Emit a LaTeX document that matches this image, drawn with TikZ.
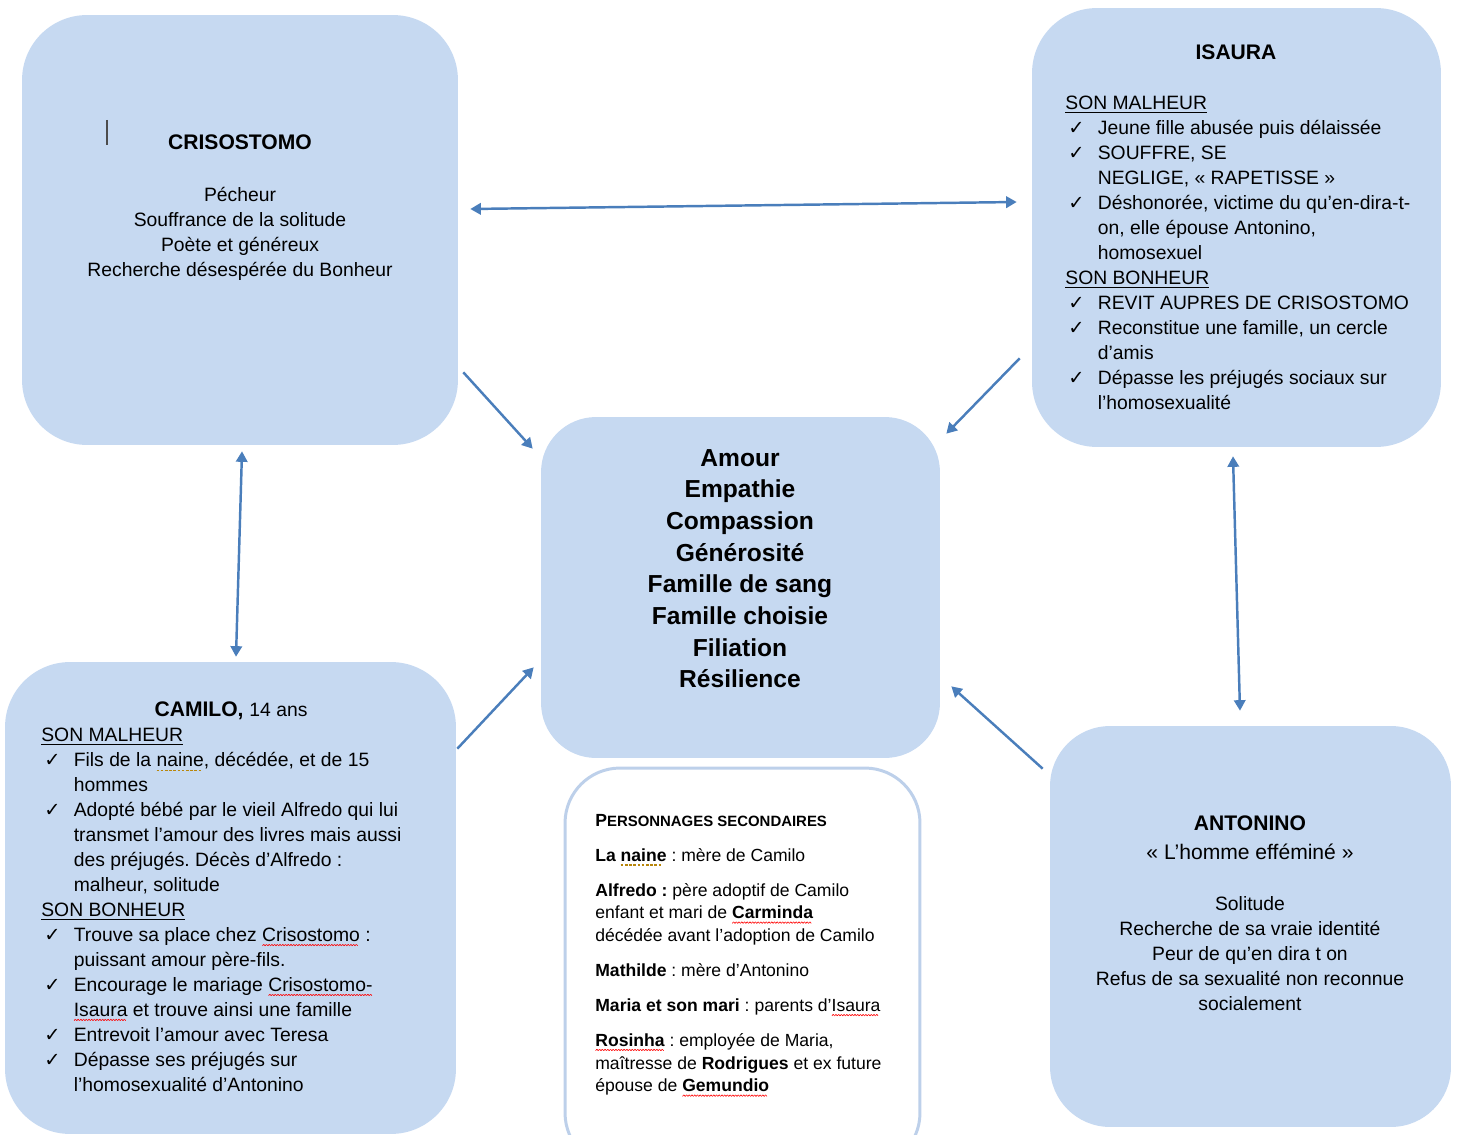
\documentclass[tikz,border=0pt]{standalone}
\usepackage{fontspec}
\setmainfont{Liberation Sans}
\newfontfamily\symbfont{DejaVu Sans}
\usetikzlibrary{arrows.meta,calc}

\definecolor{boxblue}{HTML}{C6D9F1}
\definecolor{linkblue}{HTML}{4A7EBB}
\definecolor{rimblue}{HTML}{BDD0EA}
\definecolor{spellgold}{HTML}{B8860B}

% spell-check marks
\newsavebox\wavebox
\newsavebox\dotbox
\newcommand\squig[1]{\leavevmode\setbox0\hbox{#1}%
  \rlap{\raisebox{-2.6pt}{\hbox to \wd0{\leaders\copy\wavebox\hfill}}}\box0\relax}
\newcommand\dotsq[1]{\leavevmode\setbox0\hbox{#1}%
  \rlap{\raisebox{-2.4pt}{\hbox to \wd0{\leaders\copy\dotbox\hfill}}}\box0\relax}

\newcommand\chk{\makebox[0.65cm][l]{\hspace{0.06cm}{\symbfont ✓}}}
\newcommand\ind{\hspace*{0.65cm}}

\begin{document}
\frenchspacing
\sbox\wavebox{\color{red}\rotatebox{50}{\rule{1.1pt}{0.35pt}}\kern-0.2pt%
  \raisebox{0.84pt}{\rotatebox{-50}{\rule{1.1pt}{0.35pt}}}\kern-0.2pt}
\sbox\dotbox{\textcolor{spellgold}{\rule{1.5pt}{0.8pt}}\kern0.9pt}
\begin{tikzpicture}[x=0.02cm, y=-0.02cm,
  box/.style={fill=boxblue, rounded corners=1.3cm, inner sep=0pt},
  txt/.style={inner sep=0pt, font=\fontsize{11}{14.2}\selectfont},
  title/.style={inner sep=0pt, anchor=north, font=\fontsize{12}{14}\selectfont\bfseries},
  link/.style={draw=linkblue, line width=1.4pt, -{Triangle[length=6pt,width=6.5pt]}},
  twoway/.style={link, {Triangle[length=6pt,width=6.5pt]}-{Triangle[length=6pt,width=6.5pt]}}]

  \useasboundingbox (0,0) rectangle (1461,1135);

  % Boxes
  \node[box, minimum width=8.72cm, minimum height=8.6cm] (cris) at (240,230) {};
  \node[box, minimum width=8.18cm, minimum height=8.78cm] (isaura) at (1236.5,227.5) {};
  \node[box, minimum width=7.98cm, minimum height=6.82cm, rounded corners=1.1cm] (centre) at (740.5,587.5) {};
  \node[box, minimum width=9.02cm, minimum height=9.44cm] (camilo) at (230.5,898) {};
  \node[box, minimum width=8.02cm, minimum height=8.02cm, rounded corners=1.2cm] (antonino) at (1250.5,926.5) {};
  \node[draw=rimblue, line width=1.7pt, fill=white, rounded corners=1.1cm,
        minimum width=7.1cm, minimum height=8cm] (second) at (742.5,968) {};

  % Crisostomo
  \draw[black!70, line width=0.8pt] (107,120) -- (107,145);
  \node[title] (crisname) at (240,134) {CRISOSTOMO};
  \node[txt, align=center, anchor=north] (crisdesc) at (240,187)
    {Pécheur\\Souffrance de la solitude\\Poète et généreux\\Recherche désespérée du Bonheur};

  % Isaura
  \node[title] (isname) at (1236,44) {ISAURA};
  \node[txt, align=left, anchor=north west] (islist) at (1065,96) {%
    \underline{SON MALHEUR}\\
    \chk Jeune fille abusée puis délaissée\\
    \chk SOUFFRE, SE\\
    \ind NEGLIGE, « RAPETISSE »\\
    \chk Déshonorée, victime du qu’en-dira-t-\\
    \ind on, elle épouse Antonino,\\
    \ind homosexuel\\
    \underline{SON BONHEUR}\\
    \chk REVIT AUPRES DE CRISOSTOMO\\
    \chk Reconstitue une famille, un cercle\\
    \ind d’amis\\
    \chk Dépasse les préjugés sociaux sur\\
    \ind l’homosexualité};

  % Centre
  \node[txt, font=\fontsize{14}{18}\selectfont\bfseries, align=center, anchor=north] (values) at (740,449)
    {Amour\\Empathie\\Compassion\\Générosité\\Famille de sang\\Famille choisie\\Filiation\\Résilience};

  % Camilo
  \node[title] (camname) at (231,701) {CAMILO, {\mdseries\fontsize{11}{14}\selectfont 14 ans}};
  \node[txt, align=left, anchor=north west] (camlist) at (41,728) {%
    \underline{SON MALHEUR}\\
    \chk Fils de la \dotsq{naine}, décédée, et de 15\\
    \ind hommes\\
    \chk Adopté bébé par le vieil Alfredo qui lui\\
    \ind transmet l’amour des livres mais aussi\\
    \ind des préjugés. Décès d’Alfredo :\\
    \ind malheur, solitude\\
    \underline{SON BONHEUR}\\
    \chk Trouve sa place chez \squig{Crisostomo} :\\
    \ind puissant amour père-fils.\\
    \chk Encourage le mariage \squig{Crisostomo-}\\
    \ind \squig{Isaura} et trouve ainsi une famille\\
    \chk Entrevoit l’amour avec Teresa\\
    \chk Dépasse ses préjugés sur\\
    \ind l’homosexualité d’Antonino};

  % Antonino
  \node[title] (antname) at (1250,815) {ANTONINO};
  \node[txt, font=\fontsize{12}{14}\selectfont, anchor=north] (antnick) at (1250,844) {« L’homme efféminé »};
  \node[txt, align=center, anchor=north] (antdesc) at (1250,896)
    {Solitude\\Recherche de sa vraie identité\\Peur de qu’en dira t on\\Refus de sa sexualité non reconnue\\socialement};

  % Personnages secondaires
  \node[txt, font=\fontsize{10}{13}\selectfont, align=left, anchor=north west] (sectext) at (595,814) {%
    {\bfseries P{\fontsize{8.5}{13}\selectfont ERSONNAGES SECONDAIRES}}\\[0.24cm]
    \textbf{La \dotsq{naine}} : mère de Camilo\\[0.24cm]
    \textbf{Alfredo :} père adoptif de Camilo\\
    enfant et mari de \textbf{\squig{Carminda}}\\
    décédée avant l’adoption de Camilo\\[0.24cm]
    \textbf{Mathilde} : mère d’Antonino\\[0.24cm]
    \textbf{Maria et son mari} : parents d’\squig{Isaura}\\[0.24cm]
    \textbf{\squig{Rosinha}} : employée de Maria,\\
    maîtresse de \textbf{Rodrigues} et ex future\\
    épouse de \textbf{\squig{Gemundio}}};

  % Links
  \draw[twoway] ($(cris.east)+(12,-21)$) -- ($(isaura.west)+(-15,-25.5)$);
  \draw[twoway] ($(cris.south)+(2,6)$) -- ($(camilo.north)+(5.5,-5)$);
  \draw[twoway] ($(isaura.south)+(-3.5,9)$) -- ($(antonino.north)+(-10.5,-15)$);
  \draw[link] ($(cris.south east)+(5,-73)$) -- ($(centre.north west)+(-8,32)$);
  \draw[link] ($(isaura.south west)+(-12,-89)$) -- ($(centre.north east)+(6,17)$);
  \draw[link] ($(camilo.north east)+(1,87)$) -- ($(centre.south west)+(-7,-91)$);
  \draw[link] ($(antonino.north west)+(-7,43)$) -- ($(centre.south east)+(11,-72)$);
\end{tikzpicture}
\end{document}
